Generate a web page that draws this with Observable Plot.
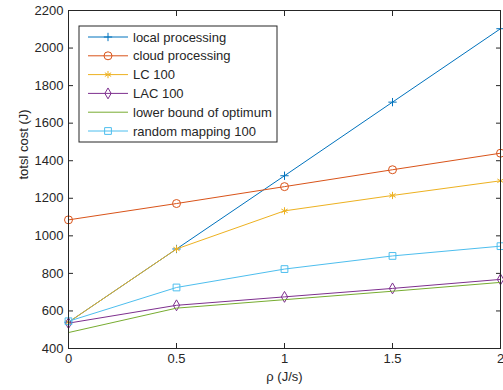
<!DOCTYPE html>
<html><head><meta charset="utf-8">
<script src="https://cdn.jsdelivr.net/npm/d3@7"></script>
<script src="https://cdn.jsdelivr.net/npm/@observablehq/plot@0.6"></script>
<style>body{margin:0;background:#fff;font-family:"Liberation Sans",Arial,sans-serif;}</style>
</head><body><div id="chart"></div>
<script>
const rho = [0, 0.5, 1, 1.5, 2];
const seriesNames = ["local processing","cloud processing","LC 100","LAC 100","lower bound of optimum","random mapping 100"];
const localProcessing = [540, 930, 1320, 1712, 2103];
const cloudProcessing = [1085, 1172, 1262, 1352, 1440];
const lc100 = [540, 930, 1133, 1215, 1293];
const lac100 = [535, 630, 675, 720, 768];
const lowerBound = [485, 615, 660, 705, 752];
const randomMapping = [545, 725, 823, 893, 945];
const colors = ["#0072BD","#D95319","#EDB120","#7E2F8E","#77AC30","#4DBEEE"];
const symbols = ["plus","circle","asterisk","diamond","none","square2"];
const symbolR = {plus: 2.8, circle: 4, asterisk: 3.4, diamond: 3.3, square2: 4.3};
const xTicks = [0, 0.5, 1, 1.5, 2];
const yTicks = [400,600,800,1000,1200,1400,1600,1800,2000,2200];

const allVals = [localProcessing, cloudProcessing, lc100, lac100, lowerBound, randomMapping];
const data = [];
allVals.forEach((vals, i) => vals.forEach((v, j) => data.push({series: seriesNames[i], x: rho[j], y: v, idx: i})));

const marks = [];
seriesNames.forEach((name, i) => {
  const d = data.filter(r => r.idx === i);
  marks.push(Plot.line(d, {x: "x", y: "y", stroke: colors[i], strokeWidth: 1}));
  if (symbols[i] !== "none") {
    marks.push(Plot.dot(d, {x: "x", y: "y", stroke: colors[i], fill: "none", symbol: symbols[i], r: symbolR[symbols[i]], strokeWidth: 1}));
  }
});

const textColor = "#262626";
const fs = 13;
const plot = Plot.plot({
  width: 503, height: 390,
  marginLeft: 68, marginRight: 3, marginTop: 10, marginBottom: 42,
  style: {fontFamily: "Liberation Sans, Arial, sans-serif", fontSize: "13px", color: textColor, background: "#fff"},
  x: {domain: [0, 2], ticks: xTicks},
  y: {domain: [400, 2200], ticks: yTicks},
  marks: [
    ...marks,
    Plot.frame({stroke: textColor, strokeWidth: 1}),
    Plot.axisX({ticks: xTicks, tickSize: 0, tickPadding: 5, tickFormat: d => String(d), label: null, fontSize: fs}),
    Plot.axisX({ticks: xTicks, tickSize: 5, dy: -5, tickFormat: () => "", label: null}),
    Plot.axisX({anchor: "top", ticks: xTicks, tickSize: 5, dy: 5, tickFormat: () => "", label: null}),
    Plot.axisY({ticks: yTicks, tickSize: 0, tickPadding: 5, tickFormat: d => String(d), label: null, fontSize: fs}),
    Plot.axisY({ticks: yTicks, tickSize: 5, dx: 5, tickFormat: () => "", label: null}),
    Plot.axisY({anchor: "right", ticks: yTicks, tickSize: 5, dx: -5, tickFormat: () => "", label: null}),
    Plot.text(["ρ (J/s)"], {frameAnchor: "bottom", dy: 32, fontSize: fs, fill: textColor}),
    Plot.text(["totsl cost (J)"], {frameAnchor: "left", rotate: -90, dx: -45, fontSize: fs, fill: textColor})
  ]
});
document.getElementById("chart").appendChild(plot);

// legend
const svg = d3.select(plot);
const lg = svg.append("g").attr("transform", "translate(79,26)");
lg.append("rect").attr("width", 198).attr("height", 116).attr("fill", "#fff").attr("stroke", textColor).attr("stroke-width", 1);
const symMap = {plus: d3.symbolPlus, circle: d3.symbolCircle, asterisk: d3.symbolAsterisk, diamond: d3.symbolDiamond, square2: d3.symbolSquare2};
seriesNames.forEach((name, i) => {
  const y = 11 + i * 18.8;
  lg.append("line").attr("x1", 9).attr("x2", 49).attr("y1", y).attr("y2", y).attr("stroke", colors[i]).attr("stroke-width", 1);
  if (symbols[i] !== "none") {
    const r = symbolR[symbols[i]];
    lg.append("path").attr("d", d3.symbol(symMap[symbols[i]], Math.PI * r * r)()).attr("transform", `translate(29,${y})`)
      .attr("fill", "none").attr("stroke", colors[i]).attr("stroke-width", 1);
  }
  lg.append("text").attr("x", 54).attr("y", y).attr("dy", "0.35em").attr("fill", textColor)
    .attr("text-anchor", "start")
    .attr("font-size", fs).attr("font-family", "Liberation Sans, Arial, sans-serif").text(name);
});
</script></body></html>
